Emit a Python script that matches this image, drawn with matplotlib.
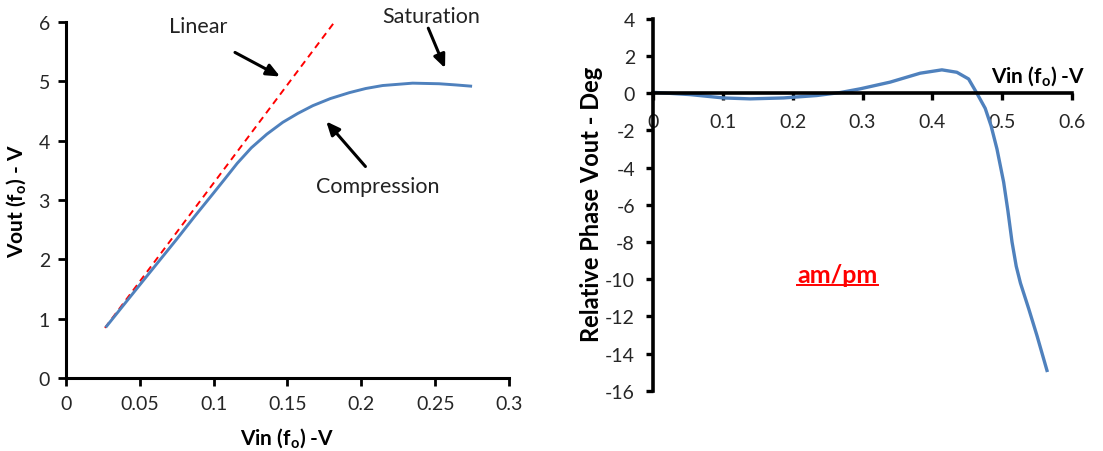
import numpy as np
import matplotlib
matplotlib.use('Agg')
import matplotlib.pyplot as plt
from matplotlib.lines import Line2D

plt.rcParams['font.family'] = ['Lato', 'DejaVu Sans']
plt.rcParams['mathtext.fontset'] = 'custom'
plt.rcParams['mathtext.rm'] = 'Lato'
plt.rcParams['mathtext.bf'] = 'Lato:bold'
plt.rcParams['axes.unicode_minus'] = False

# am/am curve (left)
vin_amam = [0.0275, 0.040, 0.050, 0.062, 0.075, 0.087, 0.100, 0.1074, 0.116, 0.1255, 0.136,
            0.1468, 0.157, 0.1671, 0.179, 0.1919, 0.203, 0.2144, 0.2347, 0.2527, 0.264, 0.274]
vout_amam = [0.872, 1.26, 1.57, 1.94, 2.34, 2.72, 3.12, 3.35, 3.62, 3.88, 4.11,
             4.31, 4.46, 4.59, 4.71, 4.81, 4.88, 4.93, 4.97, 4.96, 4.94, 4.92]

# linear reference (red dashed)
vin_lin = [0.0264, 0.1818]
vout_lin = [0.845, 6.0]

# am/pm curve (right)
vin_ampm = [0.0, 0.01, 0.053, 0.1007, 0.139, 0.187, 0.2345, 0.268, 0.2966, 0.3395, 0.3825,
            0.4136, 0.435, 0.4518, 0.4637, 0.4756, 0.484, 0.4924, 0.502, 0.508, 0.514,
            0.520, 0.526, 0.538, 0.5497, 0.564]
phase_ampm = [0.05, 0.03, -0.07, -0.25, -0.30, -0.25, -0.12, 0.04, 0.24, 0.60, 1.08,
              1.26, 1.13, 0.77, 0.0, -0.81, -1.75, -2.99, -4.78, -6.3, -8.0,
              -9.3, -10.2, -11.6, -13.03, -14.9]

blue = '#4F81BD'
tick_col = '#262626'

fig = plt.figure(figsize=(11.03, 4.52), dpi=100)
ax1 = fig.add_axes([0.0598, 0.1615, 0.4017, 0.7875])
ax2 = fig.add_axes([0.592, 0.133, 0.380, 0.823])

# ---- left chart ----
ax1.plot(vin_lin, vout_lin, color='red', ls=(0, (3.5, 2.5)), lw=1.4)
ax1.plot(vin_amam, vout_amam, color=blue, lw=2.1, solid_joinstyle='round')
ax1.set_xlim(0, 0.3)
ax1.set_ylim(0, 6)
ax1.set_xticks([0, 0.05, 0.1, 0.15, 0.2, 0.25, 0.3])
ax1.set_xticklabels(['0', '0.05', '0.1', '0.15', '0.2', '0.25', '0.3'])
ax1.set_yticks(range(0, 7))
for s in ['top', 'right']:
    ax1.spines[s].set_visible(False)
for s in ['left', 'bottom']:
    ax1.spines[s].set_linewidth(2.2)
ax1.tick_params(axis='both', direction='out', length=5.5, width=2, labelsize=14, labelcolor=tick_col)
ax1.tick_params(axis='x', pad=7)
ax1.tick_params(axis='y', pad=6)
ax1.set_xlabel(r'Vin (f$_{\mathbf{o}}$) -V', fontsize=15, fontweight='bold')
ax1.set_ylabel(r'Vout (f$_{\mathbf{o}}$) - V', fontsize=15, fontweight='bold')
ax1.xaxis.set_label_coords(0.499, -0.135)
ax1.yaxis.set_label_coords(-0.084, 0.5)

arrow = dict(arrowstyle='-|>,head_length=0.8,head_width=0.35', color='black', lw=2.2)
ax1.text(0.0892, 5.94, 'Linear', fontsize=15.5, ha='center', va='center', color='#222222')
ax1.annotate('', xy=(0.1466, 5.06), xytext=(0.1128, 5.51), arrowprops=arrow)
ax1.text(0.247, 6.11, 'Saturation', fontsize=15.5, ha='center', va='center', color='#222222')
ax1.annotate('', xy=(0.2574, 5.18), xytext=(0.2446, 5.94), arrowprops=arrow)
ax1.text(0.211, 3.23, 'Compression', fontsize=15.5, ha='center', va='center', color='#222222')
ax1.annotate('', xy=(0.175, 4.36), xytext=(0.204, 3.53), arrowprops=arrow)

# ---- right chart ----
ax2.plot(vin_ampm, phase_ampm, color=blue, lw=2.4, solid_joinstyle='round')
ax2.set_xlim(0, 0.6)
ax2.set_ylim(-16, 4)
ax2.set_xticks([0, 0.1, 0.2, 0.3, 0.4, 0.5, 0.6])
ax2.set_xticklabels(['0', '0.1', '0.2', '0.3', '0.4', '0.5', '0.6'])
ax2.set_yticks(range(-16, 5, 2))
ax2.spines['bottom'].set_position(('data', 0))
for s in ['top', 'right']:
    ax2.spines[s].set_visible(False)
for s in ['left', 'bottom']:
    ax2.spines[s].set_linewidth(2.6)
ax2.tick_params(axis='both', direction='out', length=5, width=2.4, labelsize=14, labelcolor=tick_col)
ax2.tick_params(axis='x', pad=9)
ax2.tick_params(axis='y', pad=8)
ax2.set_ylabel('Relative Phase Vout - Deg', fontsize=17, fontweight='bold')
ax2.yaxis.set_label_coords(-0.119, 0.503)
ax2.text(0.619, 0.56, r'Vin (f$_{\mathbf{o}}$) -V', fontsize=15, fontweight='bold',
         ha='right', va='baseline', clip_on=False)
t = ax2.text(0.264, -9.76, 'am/pm', fontsize=18, fontweight='bold', color='red',
             ha='center', va='center')

# underline for am/pm
fig.canvas.draw()
bb = t.get_window_extent()
fig.add_artist(Line2D([bb.x0, bb.x1], [bb.y0 + 1, bb.y0 + 1], transform=None, color='red', lw=1.4))

fig.savefig('out.png', dpi=100)
